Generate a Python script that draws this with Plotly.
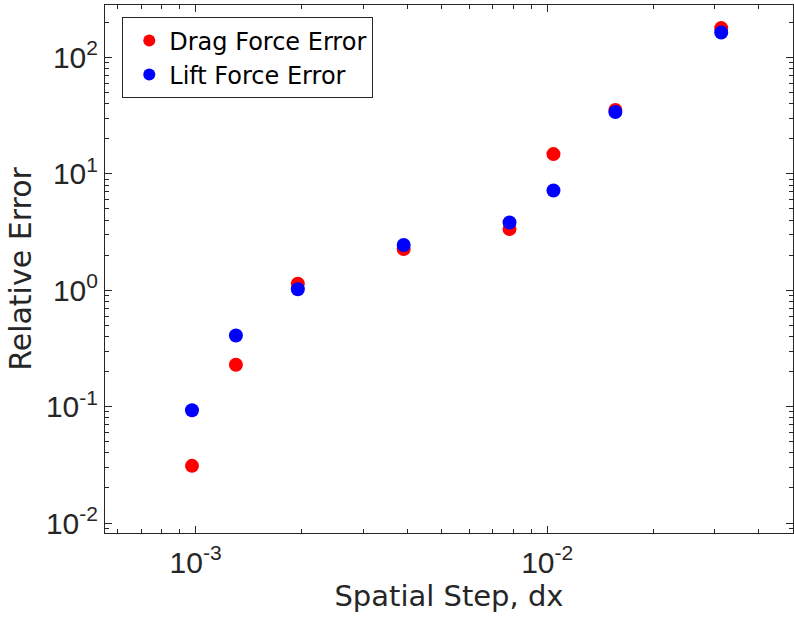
import plotly.graph_objects as go

# Data
dx = [1/1024, 1/768, 1/512, 1/256, 1/128, 1/96, 1/64, 1/32]
drag_err = [0.031, 0.229, 1.14, 2.26, 3.36, 14.8, 35.5, 179]
lift_err = [0.093, 0.409, 1.02, 2.45, 3.82, 7.2, 34.0, 164]

x_major = [1e-3, 1e-2]
x_exps = ["-3", "-2"]
y_major = [1e-2, 1e-1, 1e0, 1e1, 1e2]
y_exps = ["-2", "-1", "0", "1", "2"]

x_range_log = [-3.2577, -1.301]
y_range_log = [-2.0858, 2.4515]

def minor_vals(lo_exp, hi_exp):
    vals = []
    for e in range(lo_exp, hi_exp + 1):
        for m in range(2, 10):
            vals.append(m * 10.0 ** e)
    return vals

def pow_label(e):
    return "10<sup>" + e + "</sup>"

x_minor = minor_vals(-4, -2)
y_minor = minor_vals(-3, 2)

TICKFONT = "Liberation Sans, Arial, Helvetica, sans-serif"
TEXTFONT = "DejaVu Sans, Liberation Sans, Arial, sans-serif"
AXC = "#262626"

fig = go.Figure()
fig.add_trace(go.Scatter(
    x=dx, y=drag_err, mode="markers", name="Drag Force Error",
    marker=dict(color="#FF0000", size=14, line=dict(width=0)),
))
fig.add_trace(go.Scatter(
    x=dx, y=lift_err, mode="markers", name="Lift Force Error",
    marker=dict(color="#0000FF", size=14, line=dict(width=0)),
))

axis_common = dict(
    type="log", showgrid=False, zeroline=False,
    showline=True, linecolor=AXC, linewidth=1, mirror="ticks",
    ticks="inside", ticklen=7, tickwidth=1, tickcolor=AXC,
    tickfont=dict(family=TICKFONT, size=30, color=AXC),
)

fig.update_xaxes(
    **axis_common,
    range=x_range_log,
    tickmode="array", tickvals=x_major, ticktext=[pow_label(e) for e in x_exps],
    ticklabelstandoff=3,
    minor=dict(tickmode="array", tickvals=x_minor, ticks="inside",
               ticklen=4, tickwidth=1, tickcolor=AXC, showgrid=False),
    title=dict(text="Spatial Step, dx", font=dict(family=TEXTFONT, size=29, color=AXC), standoff=1),
)
fig.update_yaxes(
    **axis_common,
    range=y_range_log,
    tickmode="array", tickvals=y_major, ticktext=[pow_label(e) for e in y_exps],
    minor=dict(tickmode="array", tickvals=y_minor, ticks="inside",
               ticklen=4, tickwidth=1, tickcolor=AXC, showgrid=False),
    title=dict(text="Relative Error", font=dict(family=TEXTFONT, size=30, color=AXC), standoff=5),
)

fig.update_layout(
    width=794, height=620,
    margin=dict(l=105, r=1, t=5, b=87, autoexpand=False),
    paper_bgcolor="white", plot_bgcolor="white",
    showlegend=True,
    legend=dict(
        x=0.0251, y=0.9767, xanchor="left", yanchor="top",
        bgcolor="white", bordercolor=AXC, borderwidth=1,
        font=dict(family=TEXTFONT, size=24, color="black"),
        itemsizing="constant", tracegroupgap=0, indentation=6,
    ),
)

fig.write_html("out.html")
